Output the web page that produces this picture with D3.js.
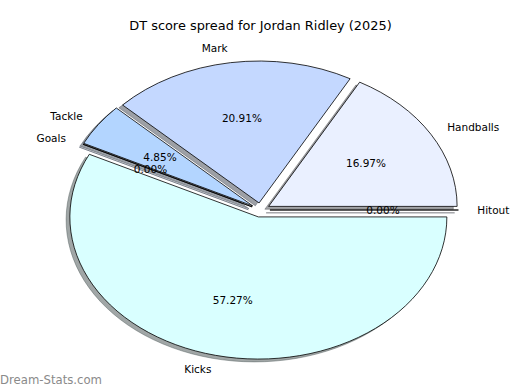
<!DOCTYPE html>
<html>
<head>
<meta charset="utf-8">
<script src="https://cdn.jsdelivr.net/npm/d3@7"></script>
<style>
  body { margin: 0; background: #fff; }
  svg text { font-family: "DejaVu Sans", sans-serif; }
</style>
</head>
<body>
<div id="chart"></div>
<script>
// data, in matplotlib order (counter-clockwise from 3 o'clock)
const categories = ["Hitout", "Handballs", "Mark", "Tackle", "Goals", "Kicks"];
const shares = [0.00, 16.97, 20.91, 4.85, 0.00, 57.27];
const sliceColors = ["#e0e8ff", "#eaf0ff", "#c4d8ff", "#b3d5ff", "#a8ccff", "#d9ffff"];
const chartTitle = "DT score spread for Jordan Ridley (2025)";

const props = {
    width: 520, height: 390,
    cx: 260.5, cy: 210,
    rx: 188.5, ry: 142,
    explode: 0.05,
    labelDistance: 1.1,
    pctDistance: 0.6,
    shadow: {dx: -0.02, dy: 0.02, opacity: 0.5},
    fontSize: 10.5
};

const svg = d3.select("#chart").append("svg")
    .attr("width", props.width)
    .attr("height", props.height);

svg.append("text")
    .attr("x", 260.5)
    .attr("y", 30)
    .attr("text-anchor", "middle")
    .attr("font-size", 12.9)
    .attr("fill", "#000")
    .text(chartTitle);

const rows = categories.map((c, i) => ({name: c, value: shares[i], color: sliceColors[i]}));

// counter-clockwise from 3 o'clock, like matplotlib
const pie = d3.pie()
    .sort(null)
    .value((d) => d.value)
    .startAngle(Math.PI / 2)
    .endAngle(Math.PI / 2 - 2 * Math.PI);

const arcs = pie(rows);
const unitArc = d3.arc().innerRadius(0).outerRadius(1);

// unit direction of the middle of each slice, screen coords
const midDir = (d) => {
    const m = (d.startAngle + d.endAngle) / 2;
    return [Math.sin(m), -Math.cos(m)];
};
const offset = (d) => {
    const [ux, uy] = midDir(d);
    return [props.cx + props.explode * props.rx * ux, props.cy + props.explode * props.ry * uy];
};

const shadowColor = (c) => {
    const rgb = d3.rgb(c);
    return d3.rgb(rgb.r * 0.3, rgb.g * 0.3, rgb.b * 0.3).formatHex();
};

const shadowGroup = svg.append("g").attr("class", "shadowGroup");
const wedgeGroup = svg.append("g").attr("class", "wedgeGroup");
const labelGroup = svg.append("g").attr("class", "labelGroup");

shadowGroup.selectAll("path")
    .data(arcs)
    .join("path")
    .attr("transform", (d) => {
        const [x, y] = offset(d);
        return `translate(${x + props.shadow.dx * props.rx},${y + props.shadow.dy * props.ry}) scale(${props.rx},${props.ry})`;
    })
    .attr("d", unitArc)
    .attr("fill", (d) => shadowColor(d.data.color))
    .attr("fill-opacity", props.shadow.opacity)
    .attr("stroke", (d) => shadowColor(d.data.color))
    .attr("stroke-opacity", props.shadow.opacity)
    .attr("stroke-width", 0.8)
    .attr("vector-effect", "non-scaling-stroke");

wedgeGroup.selectAll("path")
    .data(arcs)
    .join("path")
    .attr("transform", (d) => {
        const [x, y] = offset(d);
        return `translate(${x},${y}) scale(${props.rx},${props.ry})`;
    })
    .attr("d", unitArc)
    .attr("fill", (d) => d.data.color)
    .attr("stroke", "#000")
    .attr("stroke-width", 0.8)
    .attr("stroke-linejoin", "miter")
    .attr("vector-effect", "non-scaling-stroke");

// category labels
labelGroup.selectAll(".catLabel")
    .data(arcs)
    .join("text")
    .attr("class", "catLabel")
    .attr("x", (d) => offset(d)[0] + props.labelDistance * props.rx * midDir(d)[0])
    .attr("y", (d) => offset(d)[1] + props.labelDistance * props.ry * midDir(d)[1])
    .attr("dy", "0.35em")
    .attr("text-anchor", (d) => midDir(d)[0] > 0 ? "start" : "end")
    .attr("font-size", props.fontSize)
    .text((d) => d.data.name);

// percentage labels
labelGroup.selectAll(".pctLabel")
    .data(arcs)
    .join("text")
    .attr("class", "pctLabel")
    .attr("x", (d) => offset(d)[0] + props.pctDistance * props.rx * midDir(d)[0])
    .attr("y", (d) => offset(d)[1] + props.pctDistance * props.ry * midDir(d)[1])
    .attr("dy", "0.35em")
    .attr("text-anchor", "middle")
    .attr("font-size", props.fontSize)
    .text((d) => d.data.value.toFixed(2) + "%");

// watermark
svg.append("text")
    .attr("x", 0)
    .attr("y", 384)
    .attr("font-size", 11.7)
    .attr("fill", "#8a8a8a")
    .attr("textLength", 102)
    .text("Dream-Stats.com");
</script>
</body>
</html>
